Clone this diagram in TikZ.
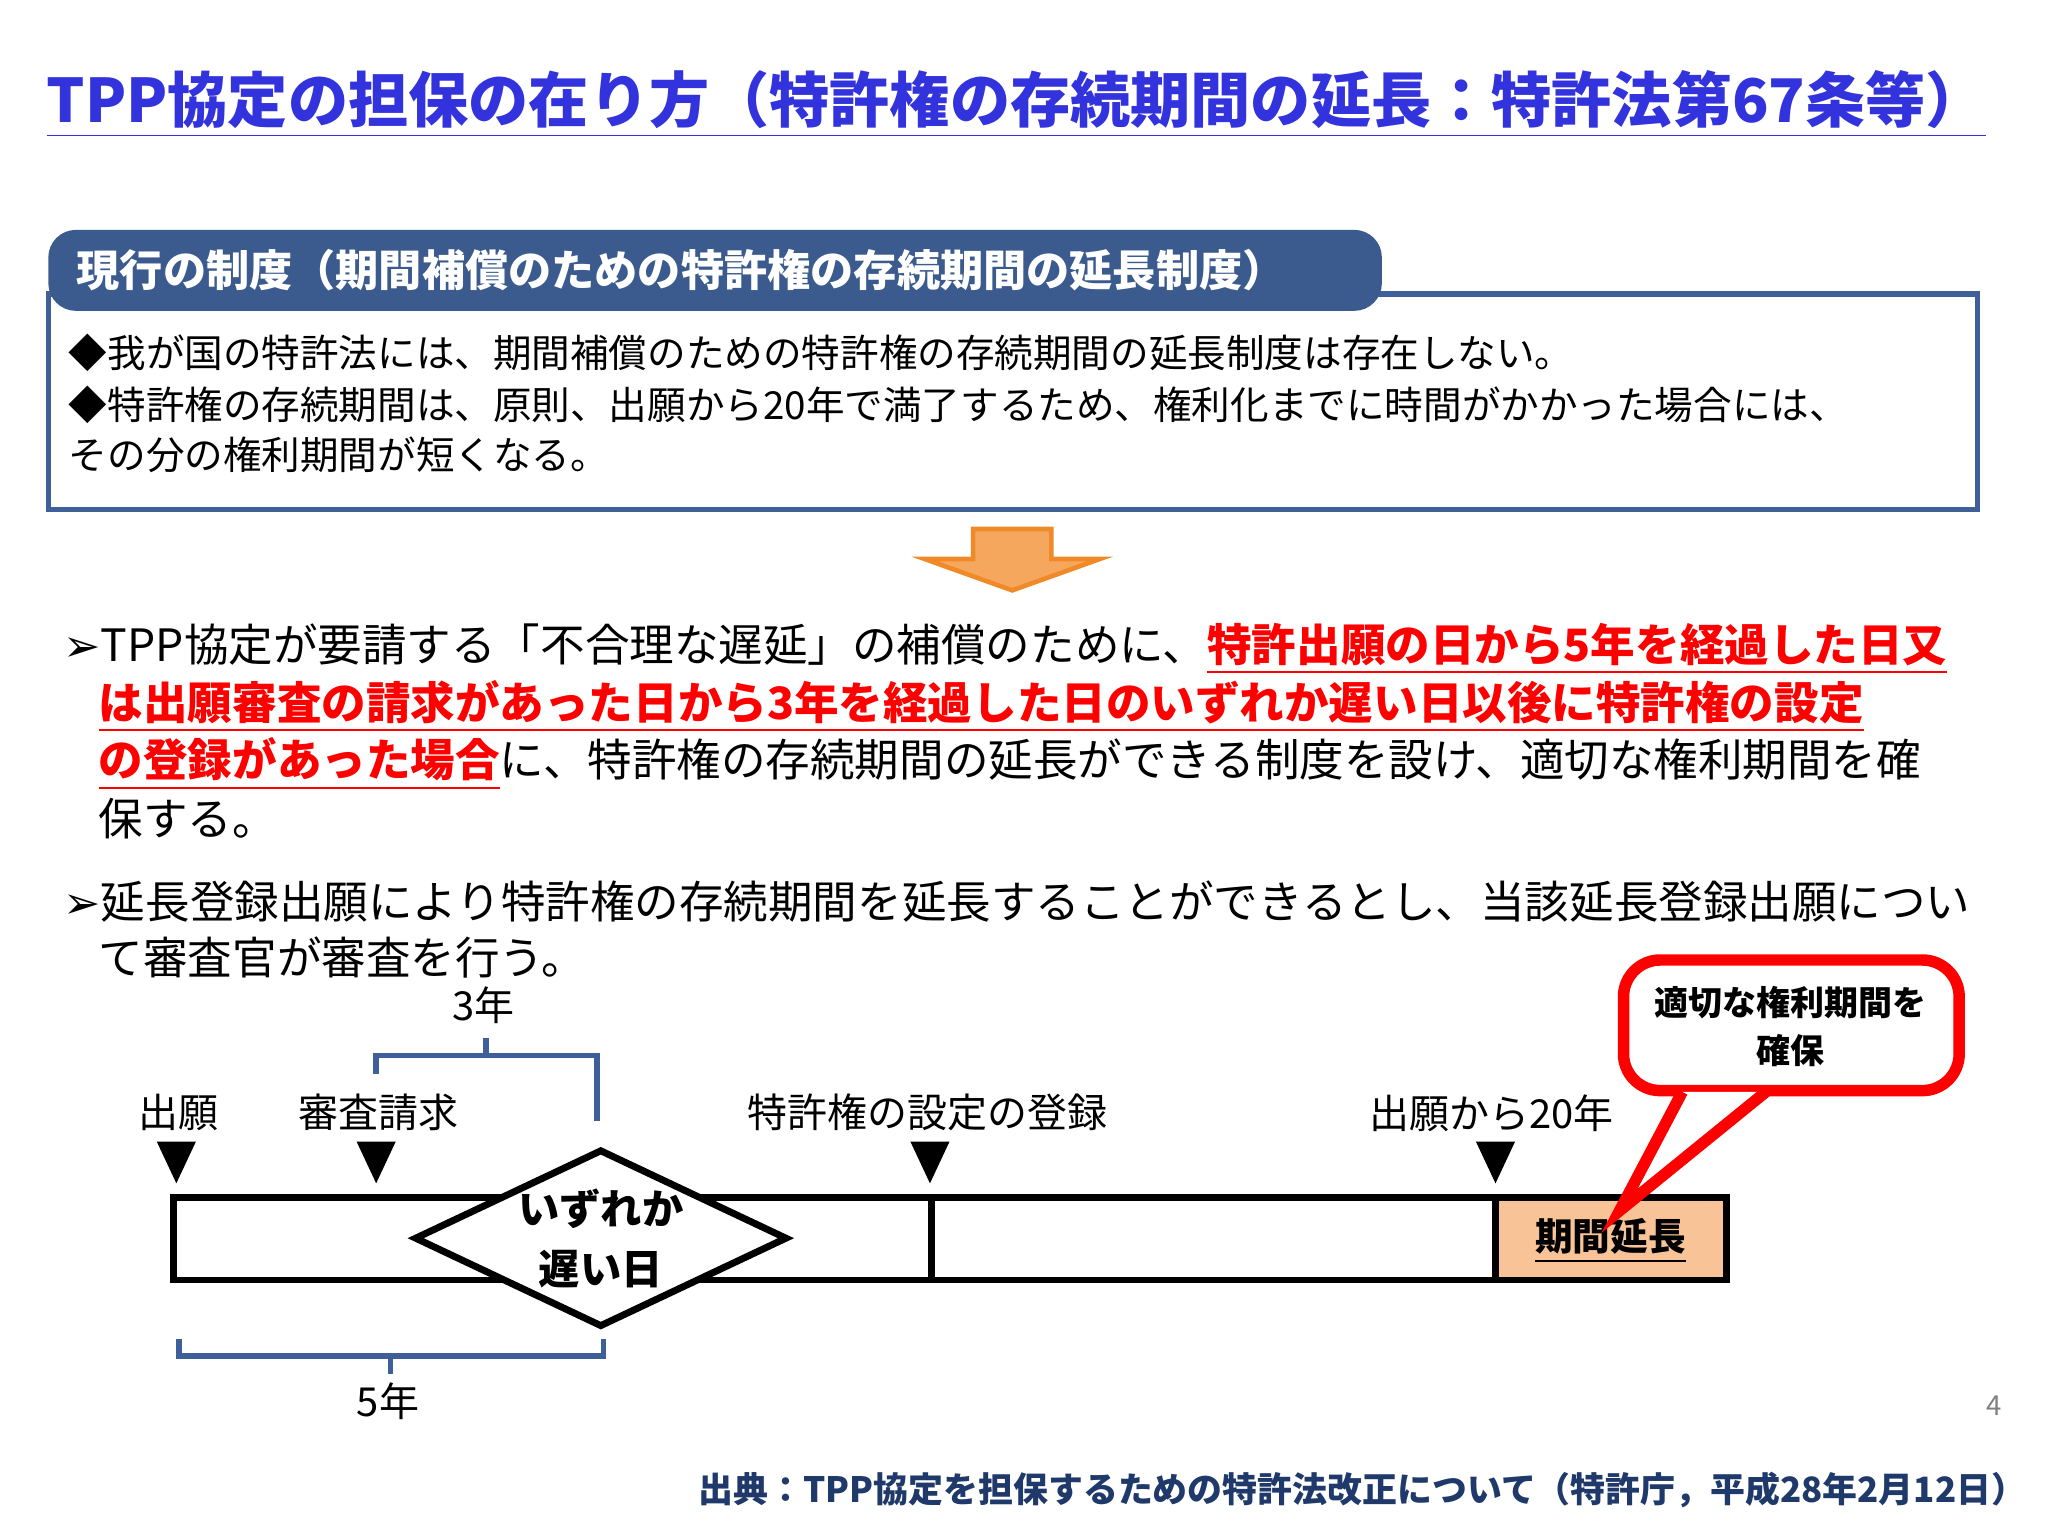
\documentclass[tikz,border=0pt]{standalone}
\usepackage{fontspec}
\setmainfont{Noto Sans CJK JP}
\newfontfamily\djv{DejaVu Sans}
\usetikzlibrary{shapes.geometric}
\definecolor{ttl}{HTML}{3333DD}
\definecolor{hdr}{HTML}{3B5B8F}
\definecolor{bx}{HTML}{3F5F99}
\definecolor{org}{HTML}{F08A28}
\definecolor{orgf}{HTML}{F6A75E}
\definecolor{pch}{HTML}{F8C396}
\definecolor{brc}{HTML}{3F5F99}
\definecolor{ftr}{HTML}{1F3A6A}
\newcommand{\fsz}[1]{\fontsize{#1}{#1}\selectfont}
\newcommand{\rd}[1]{\textcolor{red}{\bfseries\underline{#1}}}
\tikzset{
 txt/.style={anchor=west,inner sep=0pt},
 lbl/.style={inner sep=0pt,font=\fsz{8.7pt}},
 brace/.style={draw=brc,line width=1.2pt}
}
\begin{document}
\begin{tikzpicture}[x=0.01cm,y=-0.01cm]
\useasboundingbox (0,0) rectangle (1568,1176);
% title
\node[txt,text=ttl,font=\fsz{13.1pt}\bfseries] (title) at (35,80) {\underline{TPP協定の担保の在り方（特許権の存続期間の延長：特許法第67条等）}};
% box
\draw[bx,line width=1.2pt] (37,225) rectangle (1514,390);
\fill[hdr,rounded corners=6pt] (37,176) rectangle (1058,238);
\node[txt,text=white,font=\fsz{9.4pt}\bfseries] (hdr) at (58,207) {現行の制度（期間補償のための特許権の存続期間の延長制度）};
\node[txt,font=\fsz{8.4pt}] (b1) at (52,270) {◆我が国の特許法には、期間補償のための特許権の存続期間の延長制度は存在しない。};
\node[txt,font=\fsz{8.4pt}] (b2) at (52,310) {◆特許権の存続期間は、原則、出願から20年で満了するため、権利化までに時間がかかった場合には、};
\node[txt,font=\fsz{8.4pt}] (b3) at (52,348) {その分の権利期間が短くなる。};
% arrow
\draw[org,fill=orgf,line width=1pt] (745,405) -- (805,405) -- (805,428) -- (842,428) -- (775,452) -- (708,428) -- (745,428) -- cycle;
% paragraph 1
\node[txt,font=\fsz{9.7pt}] (p1) at (48,497) {{\djv ➢}TPP協定が要請する「不合理な遅延」の補償のために、\rd{特許出願の日から5年を経過した日又}};
\node[txt,font=\fsz{9.7pt}] (p2) at (75,541) {\rd{は出願審査の請求があった日から3年を経過した日のいずれか遅い日以後に特許権の設定}};
\node[txt,font=\fsz{9.7pt}] (p3) at (75,585) {\rd{の登録があった場合}に、特許権の存続期間の延長ができる制度を設け、適切な権利期間を確};
\node[txt,font=\fsz{9.7pt}] (p4) at (75,627) {保する。};
\node[txt,font=\fsz{9.7pt}] (q1) at (48,690) {{\djv ➢}延長登録出願により特許権の存続期間を延長することができるとし、当該延長登録出願につい};
\node[txt,font=\fsz{9.7pt}] (q2) at (75,733) {て審査官が審査を行う。};
% timeline
\draw[line width=1.5pt] (133,917) rectangle (1322,980);
\fill[pch] (1145,917) rectangle (1322,980);
\draw[line width=1.5pt] (1145,917) rectangle (1322,980);
\draw[line width=1.5pt] (713,917) -- (713,980);
\node[font=\fsz{8.2pt}\bfseries,inner sep=0pt] (ext) at (1233,950) {\underline{期間延長}};
\node[diamond,draw,line width=1.5pt,fill=white,minimum width=2.65cm,minimum height=1.28cm,inner sep=0pt,aspect=2.1,align=center,font=\fsz{9pt}\bfseries] (dia) at (460,948) {いずれか\\[4pt]遅い日};
% triangles and labels
\foreach \x/\n in {135/t1,288/t2,712/t3,1145/t4}{
 \fill (\x-15,874) -- (\x+15,874) -- (\x,906) -- cycle;
 \coordinate (\n) at (\x,906);
}
\node[lbl] (l1) at (137,852) {出願};
\node[lbl] (l2) at (290,852) {審査請求};
\node[lbl] (l3) at (710,852) {特許権の設定の登録};
\node[lbl] (l4) at (1142,852) {出願から20年};
% braces
\draw[brace] (288,822) -- (288,808) -- (457,808) -- (457,858);
\draw[brace] (372,808) -- (372,795);
\node[lbl] (y3) at (370,770) {3年};
\draw[brace] (137,1025) -- (137,1038) -- (462,1038) -- (462,1025);
\draw[brace] (299,1038) -- (299,1052);
\node[lbl] (y5) at (297,1073) {5年};
% callout
\draw[red,line width=2.5pt,fill=white,rounded corners=8pt] (1243,735) rectangle (1500,835);
\node[align=center,font=\fsz{7.4pt}\bfseries,inner sep=0pt] (call) at (1371,786) {適切な権利期間を\\[3pt]確保};
\coordinate (tip) at (1240,927);
\draw[red,line width=2.5pt,line join=miter,fill=white] (1288,836) -- (tip) -- (1352,836);
% page number
\node[text=gray,font=\fsz{6pt}] (pg) at (1527,1076) {4};
\node[anchor=east,inner sep=0pt,text=ftr,font=\fsz{7.6pt}\bfseries] (ftr) at (1552,1141) {出典：TPP協定を担保するための特許法改正について（特許庁，平成28年2月12日）};
\end{tikzpicture}
\end{document}
